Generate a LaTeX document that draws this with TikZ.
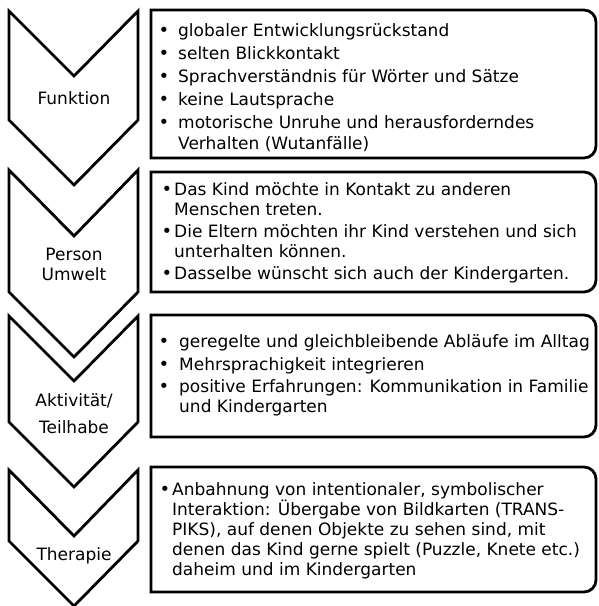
\documentclass[tikz,border=0pt]{standalone}
\usepackage{fontspec}
\setmainfont{DejaVu Sans}
\begin{document}
\begin{tikzpicture}[x=1pt,y=1pt,
  outl/.style={draw=black, line width=2.8pt, line join=miter},
  lbl/.style={anchor=base, inner sep=0pt, font=\fontsize{17}{20}\selectfont},
  txt/.style={anchor=base west, inner sep=0pt, font=\fontsize{17}{20}\selectfont},
  bul/.style={anchor=base, inner sep=0pt, font=\fontsize{18}{20}\selectfont}]
\useasboundingbox (0,0) rectangle (598,-606);
% chevrons
\draw[outl] (9,-11) -- (74,-76) -- (138,-11) -- (138,-120) -- (74,-185) -- (9,-120) -- cycle;
\draw[outl] (9,-170) -- (74,-236) -- (138,-170) -- (138,-292) -- (74,-357) -- (9,-292) -- cycle;
\draw[outl] (9,-316) -- (74,-381) -- (138,-316) -- (138,-422) -- (74,-487) -- (9,-422) -- cycle;
\draw[outl] (9,-470) -- (74,-536) -- (138,-470) -- (138,-541) -- (74,-606) -- (9,-541) -- cycle;
% boxes
\draw[outl] (151,-10) -- (584,-10) arc[start angle=90,end angle=0,radius=12pt] -- (596,-146) arc[start angle=0,end angle=-90,radius=12pt] -- (151,-158) -- cycle;
\draw[outl] (151,-172) -- (584,-172) arc[start angle=90,end angle=0,radius=12pt] -- (596,-280) arc[start angle=0,end angle=-90,radius=12pt] -- (151,-292) -- cycle;
\draw[outl] (151,-315) -- (584,-315) arc[start angle=90,end angle=0,radius=12pt] -- (596,-425) arc[start angle=0,end angle=-90,radius=12pt] -- (151,-437) -- cycle;
\draw[outl] (151,-467) -- (584,-467) arc[start angle=90,end angle=0,radius=12pt] -- (596,-580) arc[start angle=0,end angle=-90,radius=12pt] -- (151,-592) -- cycle;
% left labels
\node[lbl] (l1) at (74,-104) {Funktion};
\node[lbl] (l2a) at (74,-260) {Person};
\node[lbl] (l2b) at (74,-280) {Umwelt};
\node[lbl] (l3a) at (74,-406) {Aktivität/};
\node[lbl] (l3b) at (74,-433) {Teilhabe};
\node[lbl] (l4) at (74,-560) {Therapie};
% box 1
\node[bul] (b1a) at (164,-36) {•};
\node[txt] (t1a) at (178,-36) {globaler Entwicklungsrückstand};
\node[bul] (b1b) at (164,-59) {•};
\node[txt] (t1b) at (178,-59) {selten Blickkontakt};
\node[bul] (b1c) at (164,-82) {•};
\node[txt] (t1c) at (178,-82) {Sprachverständnis für Wörter und Sätze};
\node[bul] (b1d) at (164,-105) {•};
\node[txt] (t1d) at (178,-105) {keine Lautsprache};
\node[bul] (b1e) at (164,-128) {•};
\node[txt] (t1e) at (178,-128) {motorische Unruhe und herausforderndes};
\node[txt] (t1f) at (178,-149) {Verhalten (Wutanfälle)};
% box 2
\node[bul] (b2a) at (167,-195) {•};
\node[txt] (t2a) at (174,-195) {Das Kind möchte in Kontakt zu anderen};
\node[txt] (t2b) at (174,-215) {Menschen treten.};
\node[bul] (b2c) at (167,-237) {•};
\node[txt] (t2c) at (174,-237) {Die Eltern möchten ihr Kind verstehen und sich};
\node[txt] (t2d) at (174,-257) {unterhalten können.};
\node[bul] (b2e) at (167,-279) {•};
\node[txt] (t2e) at (174,-279) {Dasselbe wünscht sich auch der Kindergarten.};
% box 3
\node[bul] (b3a) at (164,-347) {•};
\node[txt] (t3a) at (179,-347) {geregelte und gleichbleibende Abläufe im Alltag};
\node[bul] (b3b) at (164,-370) {•};
\node[txt] (t3b) at (179,-370) {Mehrsprachigkeit integrieren};
\node[bul] (b3c) at (164,-392) {•};
\node[txt] (t3c) at (179,-392) {positive Erfahrungen: Kommunikation in Familie};
\node[txt] (t3d) at (179,-412) {und Kindergarten};
% box 4
\node[bul] (b4a) at (165,-495) {•};
\node[txt] (t4a) at (172,-495) {Anbahnung von intentionaler, symbolischer};
\node[txt] (t4b) at (172,-515) {Interaktion: Übergabe von Bildkarten (TRANS-};
\node[txt] (t4c) at (172,-535) {PIKS), auf denen Objekte zu sehen sind, mit};
\node[txt] (t4d) at (172,-555) {denen das Kind gerne spielt (Puzzle, Knete etc.)};
\node[txt] (t4e) at (172,-575) {daheim und im Kindergarten};
\end{tikzpicture}
\end{document}
